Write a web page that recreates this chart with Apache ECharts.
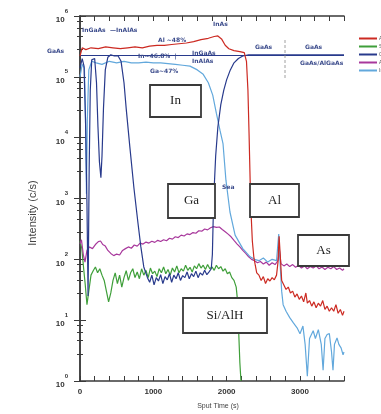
<!DOCTYPE html>
<html>
<head>
<meta charset="utf-8">
<script src="https://cdn.jsdelivr.net/npm/echarts@6/dist/echarts.min.js"></script>
<style>
  html, body { margin: 0; padding: 0; background: #fff; }
  #chart { width: 381px; height: 414px; }
</style>
</head>
<body>
<div id="chart"></div>
<script>
// series names as in the little legend top right
const names = ['Al', 'Si', 'Ga', 'As', 'In'];
const colors = ['#cc2a22', '#3f9f3a', '#283a8c', '#a8389c', '#62a8dc'];

// [sputter time (s), intensity (c/s)]
const alData = [[0,2.2e5],[30,3.0e5],[80,2.8e5],[150,3.0e5],[250,2.9e5],[350,3.1e5],[450,3.0e5],[550,2.9e5],[650,3.0e5],[750,3.1e5],[850,3.0e5],[950,3.2e5],[1050,3.3e5],[1150,3.3e5],[1250,3.4e5],[1350,3.5e5],[1450,3.6e5],[1550,3.8e5],[1650,4.1e5],[1750,4.3e5],[1830,4.6e5],[1880,4.7e5],[1930,4.2e5],[1980,3.3e5],[2030,2.9e5],[2100,2.7e5],[2180,2.6e5],[2240,2.5e5],[2270,1.8e5],[2290,6e4],[2305,1.2e4],[2320,2000],[2335,500],[2350,200],[2370,110],[2390,80],[2410,60],[2440,55],[2470,45],[2500,52],[2530,40],[2560,48],[2590,44],[2620,50],[2650,46],[2680,55],[2700,90],[2715,240],[2730,120],[2750,45],[2780,38],[2810,32],[2840,35],[2870,28],[2900,30],[2930,24],[2960,27],[2990,22],[3020,25],[3050,20],[3080,28],[3100,19],[3130,21],[3160,17],[3190,20],[3220,16],[3250,19],[3280,17],[3310,21],[3340,15],[3370,17],[3400,14],[3430,16],[3460,14],[3490,18],[3520,13],[3550,15],[3580,12],[3600,14]];

const siData = [[0,200],[25,150],[50,70],[70,40],[95,18],[120,30],[150,55],[180,65],[210,75],[240,60],[270,70],[300,55],[330,45],[360,30],[390,20],[420,28],[450,45],[480,60],[510,40],[540,55],[570,35],[600,50],[630,65],[660,45],[690,60],[720,70],[750,50],[780,62],[810,48],[840,70],[870,55],[900,66],[930,50],[960,72],[990,58],[1020,64],[1050,52],[1080,70],[1110,60],[1140,75],[1170,58],[1200,68],[1230,55],[1260,72],[1290,62],[1320,78],[1350,60],[1380,70],[1410,64],[1440,80],[1470,66],[1500,74],[1530,62],[1560,78],[1590,70],[1620,85],[1650,72],[1680,80],[1710,68],[1740,82],[1770,70],[1800,75],[1830,66],[1860,80],[1890,70],[1920,76],[1950,64],[1980,70],[2010,58],[2040,62],[2070,50],[2100,45],[2130,35],[2150,20],[2165,6],[2180,2],[2195,1]];

const gaData = [[0,1.4e5],[30,2.0e5],[55,1.5e5],[75,2e4],[95,800],[110,25],[125,3e3],[140,6e4],[160,1.9e5],[200,2.0e5],[225,8e4],[245,1.5e4],[265,4e3],[285,2.2e3],[300,5e3],[320,3e4],[345,1.3e5],[380,2.1e5],[420,2.3e5],[470,2.2e5],[520,2.2e5],[560,1.8e5],[600,8e4],[630,3e4],[680,7e3],[735,1500],[790,400],[830,160],[870,75],[920,50],[950,42],[980,55],[1010,38],[1040,50],[1070,44],[1100,56],[1130,40],[1160,52],[1190,46],[1220,58],[1250,42],[1280,55],[1310,48],[1340,60],[1370,45],[1400,54],[1430,50],[1460,62],[1490,48],[1520,58],[1550,52],[1580,64],[1610,50],[1640,60],[1670,55],[1700,66],[1730,56],[1760,62],[1790,70],[1805,120],[1815,400],[1830,1500],[1850,5000],[1880,1.5e4],[1920,3.5e4],[1960,6e4],[2000,9e4],[2050,1.3e5],[2100,1.7e5],[2160,2.0e5],[2220,2.2e5],[2300,2.3e5],[2500,2.3e5],[2800,2.3e5],[3100,2.3e5],[3400,2.3e5],[3600,2.3e5]];

const asData = [[0,180],[20,210],[45,120],[68,90],[95,140],[130,160],[170,150],[210,175],[250,195],[280,200],[310,175],[345,165],[380,140],[420,125],[460,115],[500,122],[540,118],[580,140],[620,150],[660,160],[700,152],[740,172],[780,165],[820,185],[860,178],[900,192],[940,185],[980,198],[1020,190],[1060,205],[1100,196],[1140,210],[1180,202],[1220,222],[1260,215],[1300,235],[1340,228],[1380,250],[1420,242],[1460,262],[1500,255],[1540,275],[1580,268],[1620,295],[1660,290],[1700,315],[1740,305],[1780,330],[1820,345],[1860,335],[1900,340],[1940,310],[1980,285],[2020,260],[2060,235],[2100,205],[2140,180],[2180,160],[2220,140],[2260,125],[2300,110],[2340,100],[2380,95],[2420,88],[2460,92],[2500,84],[2540,90],[2580,80],[2620,88],[2660,82],[2700,95],[2720,140],[2740,85],[2780,78],[2820,84],[2860,76],[2900,82],[2940,74],[2980,80],[3020,72],[3060,78],[3100,70],[3140,76],[3180,72],[3220,78],[3260,70],[3300,75],[3340,68],[3380,74],[3420,70],[3460,76],[3500,68],[3540,72],[3580,66],[3600,70]];

const inData = [[0,1.0e5],[30,1.6e5],[60,1.4e5],[75,2e4],[88,1200],[100,2e4],[120,1.3e5],[160,1.8e5],[220,1.7e5],[300,1.6e5],[400,1.8e5],[500,1.7e5],[600,1.8e5],[700,1.7e5],[800,1.7e5],[900,1.75e5],[1000,1.7e5],[1100,1.7e5],[1200,1.65e5],[1300,1.6e5],[1400,1.55e5],[1500,1.5e5],[1600,1.3e5],[1680,1.1e5],[1750,8e4],[1810,5e4],[1860,2.5e4],[1910,1.3e4],[1950,8e3],[1990,2e3],[2045,600],[2115,250],[2220,150],[2320,110],[2380,100],[2440,95],[2500,105],[2560,90],[2620,100],[2680,95],[2710,260],[2730,80],[2750,30],[2770,18],[2810,14],[2860,11],[2910,9],[2960,7.5],[3000,6],[3040,8],[3070,4],[3100,1.2],[3130,5],[3180,6.7],[3210,5],[3250,7],[3290,4],[3315,1.5],[3340,5],[3370,5.8],[3400,6],[3430,3],[3450,1.5],[3470,4],[3505,5.1],[3530,4],[3560,3.5],[3587,2.7],[3600,3]];

// hand-drawn GaAs reference level
const gaAsRef = 2.3e5;

// x tick labels every 1000 s, ticks every 200 s
const xMax = 3600;
const xLabelStep = 1000;

const chart = echarts.init(document.getElementById('chart'), null, { renderer: 'canvas' });

const axisLineStyle = { color: '#3a3a3a', width: 1.5 };
const sup = function (v) {
  const e = Math.round(Math.log10(v));
  return '{b|10}{e|' + e + '}';
};

const hand = '#3c4c8c';
const boxes = [
  { text: 'In', x: 150, y: 85, w: 51, h: 32 },
  { text: 'Ga', x: 168, y: 184, w: 47, h: 34 },
  { text: 'Al', x: 250, y: 184, w: 49, h: 33 },
  { text: 'As', x: 298, y: 235, w: 51, h: 31 },
  { text: 'Si/AlH', x: 183, y: 298, w: 84, h: 35 }
];
const notes = [
  { text: 'GaAs', x: 47, y: 48 },
  { text: 'InGaAs', x: 82, y: 27 },
  { text: '—InAlAs', x: 110, y: 27 },
  { text: 'InAs', x: 213, y: 21 },
  { text: 'Al ~48%', x: 158, y: 37 },
  { text: 'In~46.8%  |', x: 138, y: 53 },
  { text: 'InGaAs', x: 192, y: 50 },
  { text: 'InAlAs', x: 192, y: 58 },
  { text: 'Ga~47%', x: 150, y: 68 },
  { text: 'GaAs', x: 255, y: 44 },
  { text: 'GaAs', x: 305, y: 44 },
  { text: 'GaAs/AlGaAs', x: 300, y: 60 },
  { text: 'Sea', x: 222, y: 184 }
];

const graphics = [];
boxes.forEach(function (b) {
  graphics.push({
    type: 'rect', z: 100,
    shape: { x: b.x, y: b.y, width: b.w, height: b.h },
    style: { fill: '#fff', stroke: '#3a3a3a', lineWidth: 1.8 }
  });
  graphics.push({
    type: 'text', z: 101,
    x: b.x + b.w / 2, y: b.y + b.h / 2,
    style: { text: b.text, fill: '#222', font: '13px "Liberation Serif"', align: 'center', verticalAlign: 'middle' }
  });
});
notes.forEach(function (n) {
  graphics.push({
    type: 'text', z: 90, x: n.x, y: n.y,
    style: { text: n.text, fill: hand, font: 'bold 6px "DejaVu Sans"' }
  });
});
graphics.push({
  type: 'line', z: 90,
  shape: { x1: 285, y1: 40, x2: 285, y2: 78 },
  style: { stroke: '#888', lineWidth: 0.8, lineDash: [3, 2] }
});
graphics.push({
  type: 'text', z: 90, x: 33, y: 213, rotation: Math.PI / 2,
  style: { text: 'Intensity (c/s)', fill: '#444', font: '11px "Liberation Sans"', align: 'center', verticalAlign: 'middle' }
});
graphics.push({
  type: 'text', z: 90, x: 218, y: 406,
  style: { text: 'Sput Time (s)', fill: '#444', font: '7px "Liberation Sans"', align: 'center', verticalAlign: 'middle' }
});

const seriesData = [alData, siData, gaData, asData, inData];
const drawOrder = [1, 3, 4, 2, 0];

const option = {
  animation: false,
  backgroundColor: '#fff',
  grid: { left: 80, right: 37, top: 16, bottom: 33 },
  legend: {
    data: names,
    orient: 'vertical',
    left: 354, top: 31,
    icon: 'rect',
    itemWidth: 18, itemHeight: 2, itemGap: 3,
    textStyle: { fontSize: 5, color: '#555', padding: [0, 0, 0, -3] }
  },
  xAxis: [{
    type: 'value', min: 0, max: xMax, interval: 200,
    axisLine: { lineStyle: axisLineStyle },
    axisTick: { inside: true, length: 5, lineStyle: { color: '#3a3a3a' } },
    splitLine: { show: false },
    axisLabel: {
      margin: 7, color: '#333', fontSize: 8, fontWeight: 'bold',
      formatter: function (v) { return v % xLabelStep === 0 ? String(v) : ''; }
    }
  }, {
    type: 'value', position: 'top', min: 0, max: xMax, interval: 200,
    axisLine: { lineStyle: axisLineStyle },
    axisTick: { inside: true, length: 5, lineStyle: { color: '#3a3a3a' } },
    splitLine: { show: false }, axisLabel: { show: false }
  }],
  yAxis: [{
    type: 'log', logBase: 10, min: 1, max: 1e6, interval: 1,
    axisLine: { show: true, lineStyle: axisLineStyle },
    axisTick: { inside: true, length: 6, lineStyle: { color: '#3a3a3a' } },
    minorTick: { show: true, splitNumber: 5, length: 3, lineStyle: { color: '#3a3a3a' } },
    splitLine: { show: false },
    axisLabel: {
      margin: 12, color: '#333', formatter: sup,
      rich: {
        b: { fontSize: 8, fontWeight: 'bold', lineHeight: 16, verticalAlign: 'bottom' },
        e: { fontSize: 6, fontWeight: 'bold', lineHeight: 16, verticalAlign: 'top' }
      }
    }
  }, {
    type: 'log', logBase: 10, min: 1, max: 1e6, interval: 1, position: 'right',
    axisLine: { show: true, lineStyle: axisLineStyle },
    axisTick: { inside: true, length: 6, lineStyle: { color: '#3a3a3a' } },
    minorTick: { show: true, splitNumber: 5, length: 3, lineStyle: { color: '#3a3a3a' } },
    splitLine: { show: false }, axisLabel: { show: false }
  }],
  series: drawOrder.map(function (i) {
    const s = {
      name: names[i],
      type: 'line',
      data: seriesData[i],
      showSymbol: false,
      symbol: 'none',
      color: colors[i],
      lineStyle: { width: 1.2, color: colors[i] },
      z: 2 + drawOrder.indexOf(i)
    };
    if (names[i] === 'Ga') {
      s.markLine = {
        silent: true, symbol: 'none',
        label: { show: false },
        lineStyle: { color: colors[i], width: 1, type: 'solid' },
        data: [{ yAxis: gaAsRef }]
      };
    }
    return s;
  }),
  graphic: graphics
};

chart.setOption(option);
window.addEventListener('resize', chart.resize);
</script>
</body>
</html>
